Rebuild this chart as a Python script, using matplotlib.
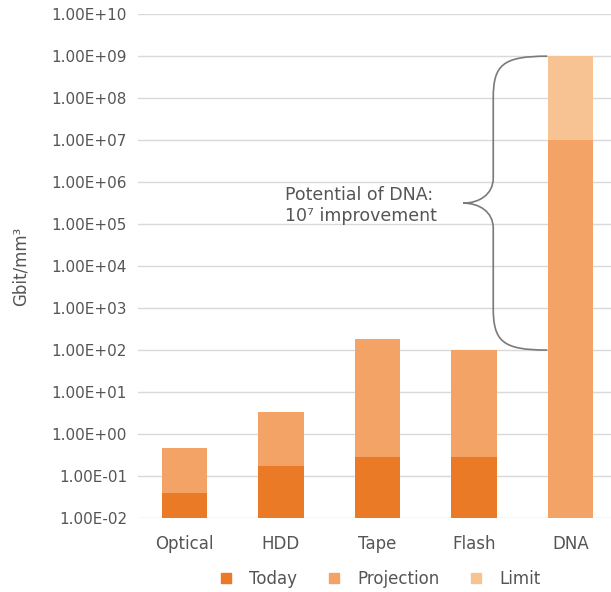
import numpy as np
import matplotlib
matplotlib.use('Agg')
import matplotlib.pyplot as plt
from matplotlib.path import Path
from matplotlib.patches import PathPatch
from matplotlib.lines import Line2D

plt.rcParams['font.family'] = ['DejaVu Sans']

# Storage density (Gbit/mm^3)
categories = ['Optical', 'HDD', 'Tape', 'Flash', 'DNA']
today = [0.04, 0.17, 0.28, 0.28, np.nan]
projection = [0.47, 3.3, 180, 100, 1e7]
limit = [np.nan, np.nan, np.nan, np.nan, 1e9]
yticks = [10.0 ** p for p in range(-2, 11)]
baseline = 1e-2

c_today = '#EA7A25'
c_proj = '#F3A366'
c_limit = '#F7C393'
txt = '#555555'

fig = plt.figure(figsize=(6.11, 5.92), dpi=100)
ax = fig.add_axes([0.226, 0.125, 0.774, 0.851])

x = np.arange(len(categories))
w = 0.47
for i in range(len(categories)):
    bottom = baseline
    if not np.isnan(today[i]):
        ax.bar(x[i], today[i] - bottom, bottom=bottom, width=w, color=c_today, zorder=3)
        bottom = today[i]
    if not np.isnan(projection[i]):
        ax.bar(x[i], projection[i] - bottom, bottom=bottom, width=w, color=c_proj, zorder=3)
        bottom = projection[i]
    if not np.isnan(limit[i]):
        ax.bar(x[i], limit[i] - bottom, bottom=bottom, width=w, color=c_limit, zorder=3)

ax.set_yscale('log')
ax.set_ylim(1e-2, 1e10)
ax.set_xlim(-0.48, 4.42)
ax.set_yticks(yticks)
ax.set_yticklabels([f'{v:.2E}' for v in yticks])
ax.minorticks_off()
ax.set_xticks(x)
ax.set_xticklabels(categories)
ax.tick_params(axis='y', length=0, pad=8, labelsize=11, labelcolor=txt)
ax.tick_params(axis='x', length=0, pad=12, labelsize=12, labelcolor=txt)
ax.grid(axis='y', color='#d9d9d9', lw=1, zorder=0)
for s in ax.spines.values():
    s.set_visible(False)

# curly brace next to DNA bar (log10 y values)
xv, xt, xe = 3.20, 2.89, 3.76
pts = [(xe, 9.0), (3.30, 9.0), (xv, 8.8), (xv, 8.0),
       (xv, 6.1),
       (xv, 5.7), (3.05, 5.5), (xt, 5.5),
       (3.05, 5.5), (xv, 5.3), (xv, 4.9),
       (xv, 3.0),
       (xv, 2.2), (3.30, 2.0), (xe, 2.0)]
codes = [Path.MOVETO, Path.CURVE4, Path.CURVE4, Path.CURVE4,
         Path.LINETO,
         Path.CURVE4, Path.CURVE4, Path.CURVE4,
         Path.CURVE4, Path.CURVE4, Path.CURVE4,
         Path.LINETO,
         Path.CURVE4, Path.CURVE4, Path.CURVE4]
verts = [(px, 10.0 ** py) for px, py in pts]
ax.add_patch(PathPatch(Path(verts, codes), fill=False, ec='#7a7a7a', lw=1.2, zorder=4))

ax.text(1.04, 10 ** 5.45, 'Potential of DNA:\n10\u2077 improvement', ha='left', va='center',
        fontsize=12.5, color=txt, linespacing=1.2, zorder=5)

fig.text(0.033, 0.55, 'Gbit/mm\u00b3', rotation=90, ha='center', va='center', fontsize=12, color=txt)

handles = [Line2D([], [], marker='s', ls='', color=c, markersize=7) for c in (c_today, c_proj, c_limit)]
fig.legend(handles, ['Today', 'Projection', 'Limit'], loc='center', bbox_to_anchor=(0.614, 0.022),
           ncol=3, frameon=False, fontsize=12, handletextpad=0.4, columnspacing=1.2,
           labelcolor=txt)

fig.savefig('out.png', dpi=100)
